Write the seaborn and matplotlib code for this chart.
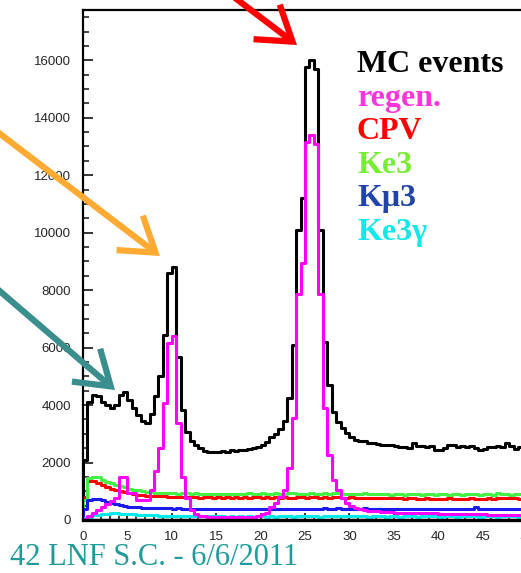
import numpy as np
import pandas as pd
import matplotlib
matplotlib.use("Agg")
import matplotlib.pyplot as plt
from matplotlib.patches import FancyArrowPatch
from matplotlib.ticker import MultipleLocator
import seaborn as sns

# ---- histogram binning (100 bins of width 0.5 between 0 and 50) ----
bin_edges = [0.5 * k for k in range(101)]
bin_centers = [0.5 * k + 0.25 for k in range(100)]

# ---- bin contents per sample ----
mc_events = [
    2100, 4110, 4350, 4300, 4110, 4000, 3900, 4000, 4350, 4470,
    4180, 3900, 3660, 3430, 3380, 3700, 4300, 5000, 6450, 8600,
    8820, 5680, 3830, 3070, 2750, 2600, 2500, 2400, 2350, 2370,
    2380, 2400, 2370, 2420, 2400, 2440, 2450, 2480, 2520, 2540,
    2620, 2720, 2890, 3000, 3150, 3450, 4250, 6100, 10100, 11200,
    15750, 16000, 15700, 10100, 6200, 4700, 3760, 3410, 3200, 3030,
    2900, 2800, 2750, 2750, 2680, 2680, 2650, 2610, 2620, 2600,
    2560, 2540, 2540, 2520, 2690, 2560, 2570, 2550, 2560, 2450,
    2440, 2500, 2620, 2600, 2540, 2560, 2530, 2560, 2520, 2440,
    2460, 2550, 2540, 2560, 2540, 2690, 2560, 2460, 2540, 2560,
]
regen = [
    50, 150, 250, 350, 450, 550, 650, 780, 1510, 1510,
    940, 940, 700, 700, 700, 1050, 1700, 2510, 4070, 6170,
    6410, 3380, 1510, 750, 350, 200, 150, 130, 110, 110,
    100, 100, 100, 100, 100, 100, 110, 110, 120, 140,
    200, 260, 460, 600, 800, 1050, 1810, 3550, 7850, 8950,
    13150, 13400, 13100, 7850, 3900, 2250, 1400, 1050, 750, 600,
    480, 420, 380, 350, 330, 310, 300, 290, 280, 270,
    260, 260, 250, 250, 240, 240, 240, 230, 230, 230,
    220, 220, 220, 210, 210, 210, 200, 200, 200, 200,
    200, 190, 190, 190, 190, 180, 180, 180, 180, 180,
]
cpv = [
    810, 1370, 1350, 1290, 1220, 1150, 1080, 1040, 1000, 980,
    940, 920, 880, 860, 840, 830, 830, 820, 820, 810,
    800, 810, 800, 790, 800, 790, 780, 800, 790, 780,
    790, 770, 790, 780, 800, 760, 790, 780, 800, 790,
    780, 800, 770, 790, 760, 800, 780, 770, 800, 790,
    780, 800, 790, 770, 790, 780, 800, 790, 770, 780,
    790, 780, 770, 760, 770, 760, 750, 770, 760, 750,
    750, 760, 740, 750, 760, 730, 740, 750, 730, 740,
    740, 730, 750, 740, 720, 740, 730, 750, 740, 730,
    740, 750, 740, 760, 770, 750, 760, 750, 740, 760,
]
ke3 = [
    700, 1450, 1480, 1500, 1400, 1320, 1280, 1220, 1170, 1150,
    1080, 1060, 1030, 1010, 970, 960, 950, 940, 930, 940,
    930, 920, 940, 930, 920, 930, 910, 900, 920, 910,
    900, 910, 890, 900, 920, 900, 910, 930, 920, 900,
    930, 910, 920, 940, 920, 910, 930, 940, 920, 900,
    920, 930, 900, 920, 940, 910, 930, 950, 920, 900,
    920, 900, 910, 930, 900, 890, 910, 920, 900, 880,
    890, 900, 880, 900, 920, 890, 880, 900, 890, 880,
    900, 890, 880, 910, 900, 880, 890, 920, 900, 880,
    890, 900, 880, 930, 890, 900, 880, 910, 900, 890,
]
kmu3 = [
    400, 680, 730, 720, 690, 640, 600, 560, 520, 480,
    460, 450, 440, 430, 430, 420, 420, 410, 410, 410,
    400, 410, 400, 390, 400, 390, 380, 390, 380, 390,
    380, 390, 380, 380, 390, 380, 370, 390, 380, 380,
    390, 380, 380, 390, 400, 380, 390, 380, 400, 390,
    380, 400, 390, 400, 410, 390, 400, 410, 400, 390,
    400, 390, 400, 410, 390, 380, 390, 400, 380, 390,
    380, 390, 400, 390, 380, 390, 380, 390, 400, 390,
    380, 390, 400, 390, 380, 390, 400, 390, 460, 400,
    390, 380, 390, 400, 380, 390, 400, 390, 380, 390,
]
ke3gamma = [
    60, 120, 170, 190, 210, 220, 230, 230, 220, 220,
    210, 200, 190, 180, 170, 160, 160, 150, 150, 150,
    140, 140, 140, 130, 140, 130, 130, 140, 130, 130,
    130, 130, 120, 130, 120, 130, 120, 130, 120, 130,
    130, 120, 130, 120, 130, 140, 130, 120, 130, 140,
    130, 140, 130, 120, 130, 140, 130, 130, 140, 130,
    130, 140, 130, 130, 120, 130, 140, 130, 120, 130,
    130, 120, 130, 140, 130, 120, 130, 130, 140, 130,
    120, 130, 140, 130, 120, 130, 130, 140, 130, 120,
    130, 140, 130, 120, 130, 130, 140, 130, 120, 130,
]

series_names = ["MC events", "regen.", "CPV", "Ke3", "K\u03bc3", "Ke3\u03b3"]
line_colors = ["#000000", "#ff00ff", "#ff0000", "#44f044", "#1a1aee", "#00eaea"]
label_colors = ["#000000", "#ff33dd", "#ff0000", "#77ee33", "#2244aa", "#11e8e8"]

y_tick_values = [0, 2000, 4000, 6000, 8000, 10000, 12000, 14000, 16000]
x_tick_values = [0, 5, 10, 15, 20, 25, 30, 35, 40, 45, 50]

sns.set_style("ticks")
plt.rcParams["font.family"] = ["Liberation Sans", "DejaVu Sans"]

fig = plt.figure(figsize=(5.21, 5.73), dpi=100)
W, H = 521.0, 573.0
ax = fig.add_axes([83 / W, 53 / H, 444 / W, 510 / H])

frames = {
    "MC events": mc_events, "regen.": regen, "CPV": cpv,
    "Ke3": ke3, "K\u03bc3": kmu3, "Ke3\u03b3": ke3gamma,
}
draw_order = ["MC events", "CPV", "Ke3", "K\u03bc3", "Ke3\u03b3", "regen."]
for name in draw_order:
    i = series_names.index(name)
    df = pd.DataFrame({"x": bin_centers, "w": frames[name]})
    sns.histplot(data=df, x="x", weights="w", bins=bin_edges,
                 element="step", fill=True, facecolor="none",
                 color=line_colors[i], linewidth=2.2, ax=ax)

ax.set_xlim(0, 50)
ax.set_ylim(0, 17750)
ax.set_xlabel("")
ax.set_ylabel("")
ax.set_xticks(x_tick_values)
ax.set_yticks(y_tick_values)
ax.set_xticklabels([str(v) for v in x_tick_values])
ax.set_yticklabels([str(v) for v in y_tick_values])
ax.xaxis.set_minor_locator(MultipleLocator(1))
ax.yaxis.set_minor_locator(MultipleLocator(500))
ax.tick_params(axis="y", which="major", direction="in", length=7, width=1.3,
               pad=8.5, labelsize=9.5)
ax.tick_params(axis="y", which="minor", direction="in", length=4, width=1.2)
ax.tick_params(axis="x", which="major", direction="in", length=5, width=1.3,
               pad=8, labelsize=9.5)
ax.tick_params(axis="x", which="minor", direction="in", length=3, width=1.2)
ax.tick_params(top=False, right=False)
for s in ["left", "top", "right"]:
    ax.spines[s].set_linewidth(1.6)
ax.spines["bottom"].set_linewidth(2.4)
for s in ax.spines.values():
    s.set_color("black")
    s.set_zorder(5)

# sample labels
for i, name in enumerate(series_names):
    ybase = 72 + 33.6 * i
    ax.text((357 - 83) / 444, (520 - ybase) / 510, name,
            transform=ax.transAxes, ha="left", va="baseline",
            fontsize=23, fontweight="bold", color=label_colors[i],
            family=["Liberation Serif", "DejaVu Serif"])

# pointer arrows towards the peaks
def fig_pt(px, py):
    return (px / W, 1 - py / H)

arrows = [
    ((222, -12), (297, 45), "#ff0000"),
    ((-5, 130), (160, 256), "#ffaa33"),
    ((-5, 287), (115, 390), "#3a8e8e"),
]
for start, end, col in arrows:
    arr = FancyArrowPatch(fig_pt(*start), fig_pt(*end),
                          transform=fig.transFigure,
                          arrowstyle="->,head_length=0.9,head_width=0.6",
                          mutation_scale=26, lw=4.5, color=col,
                          shrinkA=0, shrinkB=0, zorder=10,
                          capstyle="butt", joinstyle="miter")
    fig.add_artist(arr)

fig.text(10 / W, 8 / H, "42 LNF S.C. - 6/6/2011", ha="left", va="baseline",
         fontsize=22, color="#1f9b9b",
         family=["Liberation Serif", "DejaVu Serif"])

fig.savefig("out.png", dpi=100)
